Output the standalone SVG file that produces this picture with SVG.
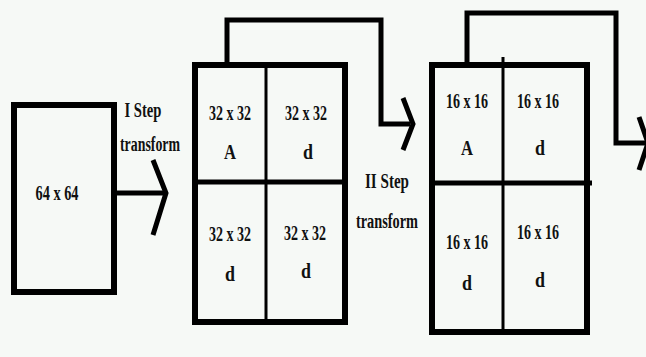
<svg xmlns="http://www.w3.org/2000/svg" width="646" height="357" viewBox="0 0 646 357">
<style>
.box{fill:none;stroke:#000;stroke-width:6}
.div{stroke:#000;fill:none}
.con{fill:none;stroke:#000;stroke-width:5;stroke-linejoin:miter}
.head{fill:none;stroke:#000;stroke-width:5;stroke-linecap:butt;stroke-linejoin:miter}
text{font-family:"Liberation Serif","Times New Roman",serif;font-weight:bold;fill:#111;text-anchor:middle}
.lbl{font-size:22px}
.sm{font-size:20px}
.st{font-size:20px}
</style>
<rect width="646" height="357" fill="#f6f9f6"/>
<g id="connectors">
<path class="con" d="M117,193 H164"/>
<path class="head" d="M153,160 L166,193 L153,235"/>
<path class="con" d="M227,63 V20 H381 V124 H410"/>
<path class="head" d="M403,98 L413,124 L403,150"/>
<path class="con" d="M467,63 V13 H616 V143 H646"/>
<path class="head" d="M639,117 L648,143 L639,170"/>
</g>
<g id="step1-label">
<text class="st" x="143" y="117" textLength="37" lengthAdjust="spacingAndGlyphs">I Step</text>
<text class="st" x="150" y="151" textLength="60" lengthAdjust="spacingAndGlyphs">transform</text>
</g>
<g id="step2-label">
<text class="st" x="387" y="188" textLength="44" lengthAdjust="spacingAndGlyphs">II Step</text>
<text class="st" x="387" y="228" textLength="62" lengthAdjust="spacingAndGlyphs">transform</text>
</g>
<g id="box64">
<rect class="box" x="14" y="105" width="100" height="187"/>
<text class="sm" x="57" y="200" textLength="43" lengthAdjust="spacingAndGlyphs">64 x 64</text>
</g>
<g id="box32">
<rect class="box" x="195" y="65" width="150" height="257"/>
<line class="div" x1="266" y1="65" x2="266" y2="322" stroke-width="3"/>
<line class="div" x1="195" y1="182" x2="345" y2="182" stroke-width="5"/>
<text class="lbl" x="230" y="120" textLength="42" lengthAdjust="spacingAndGlyphs">32 x 32</text>
<text class="lbl" x="230" y="159" textLength="12" lengthAdjust="spacingAndGlyphs">A</text>
<text class="lbl" x="306" y="120" textLength="42" lengthAdjust="spacingAndGlyphs">32 x 32</text>
<text class="lbl" x="308" y="159" textLength="10" lengthAdjust="spacingAndGlyphs">d</text>
<text class="lbl" x="230" y="241" textLength="42" lengthAdjust="spacingAndGlyphs">32 x 32</text>
<text class="lbl" x="230" y="281" textLength="10" lengthAdjust="spacingAndGlyphs">d</text>
<text class="lbl" x="305" y="240" textLength="42" lengthAdjust="spacingAndGlyphs">32 x 32</text>
<text class="lbl" x="306" y="278" textLength="10" lengthAdjust="spacingAndGlyphs">d</text>
</g>
<g id="box16">
<rect class="box" x="432" y="65" width="155" height="267"/>
<line class="div" x1="503" y1="57" x2="503" y2="332" stroke-width="3"/>
<line class="div" x1="432" y1="183" x2="592" y2="183" stroke-width="5"/>
<text class="sm" x="467" y="108" textLength="42" lengthAdjust="spacingAndGlyphs">16 x 16</text>
<text class="sm" x="467" y="155" textLength="12" lengthAdjust="spacingAndGlyphs">A</text>
<text class="sm" x="538" y="108" textLength="42" lengthAdjust="spacingAndGlyphs">16 x 16</text>
<text class="sm" x="540" y="155" textLength="10" lengthAdjust="spacingAndGlyphs">d</text>
<text class="sm" x="467" y="249" textLength="42" lengthAdjust="spacingAndGlyphs">16 x 16</text>
<text class="sm" x="467" y="290" textLength="10" lengthAdjust="spacingAndGlyphs">d</text>
<text class="sm" x="538" y="239" textLength="42" lengthAdjust="spacingAndGlyphs">16 x 16</text>
<text class="sm" x="540" y="287" textLength="10" lengthAdjust="spacingAndGlyphs">d</text>
</g>
</svg>
